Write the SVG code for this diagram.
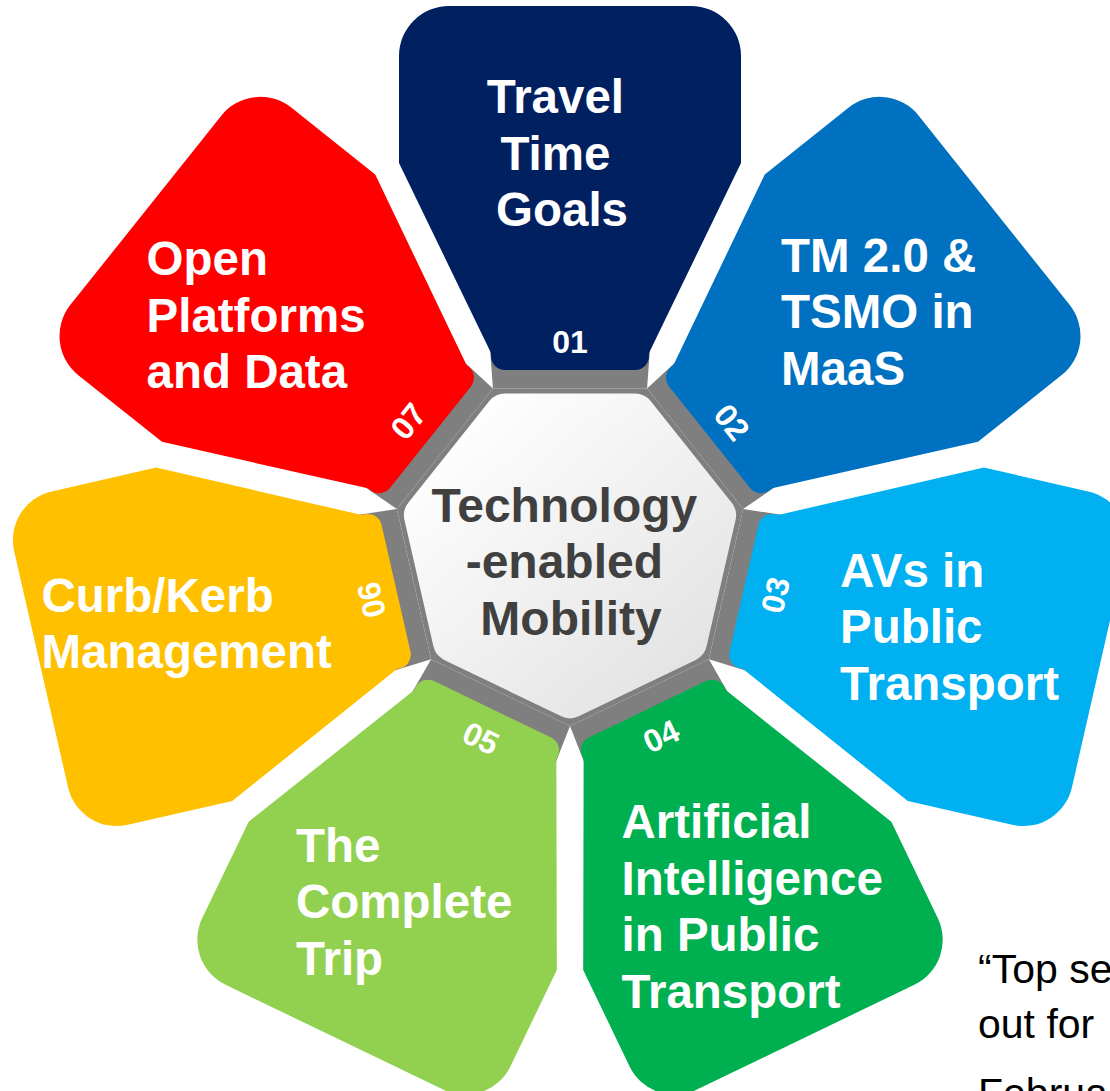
<svg xmlns="http://www.w3.org/2000/svg" width="1110" height="1091" viewBox="0 0 1110 1091">
  <style>
    .lbl { font-family: "Liberation Sans", Arial, sans-serif; font-weight: bold; font-size: 47.5px; fill: #ffffff; }
    .num { font-family: "Liberation Sans", Arial, sans-serif; font-weight: bold; font-size: 32px; fill: #ffffff; text-anchor: middle; }
    .hub-text { font-family: "Liberation Sans", Arial, sans-serif; font-weight: bold; font-size: 48px; fill: #404040; text-anchor: middle; }
    .note { font-family: "Liberation Sans", Arial, sans-serif; font-size: 41px; fill: #000000; }
  </style>
  <defs>
    <linearGradient id="hubFill" gradientUnits="userSpaceOnUse" x1="450" y1="420" x2="700" y2="700">
      <stop offset="0" stop-color="#ffffff"/>
      <stop offset="1" stop-color="#e1e1e1"/>
    </linearGradient>
    <!-- petal outline, pointing up, origin at the hub centre -->
    <path id="petal" d="M -121 -542.5 L 121 -542.5 A 50 50 0 0 1 171 -492.5 L 171 -385.5 L 79 -195.5 L 79 -192.5 A 14 14 0 0 1 65 -178.5 L -65 -178.5 A 14 14 0 0 1 -79 -192.5 L -79 -195.5 L -171 -385.5 L -171 -492.5 A 50 50 0 0 1 -121 -542.5 Z"/>
    <!-- grey neck joining a petal to the hub -->
    <path id="neck" d="M -77.06 -160 L 77.06 -160 L 80 -200 L -80 -200 Z"/>
  </defs>

  <g id="connectors" fill="#7f7f7f">
    <polygon points="647.1,388.5 743.1,509 708.8,659.2 570,726.1 431.2,659.2 396.9,509 492.9,388.5"/>
    <use href="#neck" transform="translate(570 548.5)"/>
    <use href="#neck" transform="translate(570 548.5) rotate(51.4286)"/>
    <use href="#neck" transform="translate(570 548.5) rotate(102.857)"/>
    <use href="#neck" transform="translate(570 548.5) rotate(154.286)"/>
    <use href="#neck" transform="translate(570 548.5) rotate(205.714)"/>
    <use href="#neck" transform="translate(570 548.5) rotate(257.143)"/>
    <use href="#neck" transform="translate(570 548.5) rotate(308.571)"/>
  </g>

  <g id="petal-01">
    <use href="#petal" fill="#002060" transform="translate(570 548.5)"/>
    <text class="num" transform="translate(570 341.5)" x="0" y="11.5">01</text>
    <text class="lbl" text-anchor="middle">
      <tspan x="562" y="113">Travel</tspan>
      <tspan x="562" y="169.7">Time</tspan>
      <tspan x="562" y="226.4">Goals</tspan>
    </text>
  </g>

  <g id="petal-02">
    <use href="#petal" fill="#0070c0" transform="translate(570 548.5) rotate(51.4286)"/>
    <text class="num" transform="translate(732 422) rotate(51.4286)" x="0" y="11.5">02</text>
    <text class="lbl">
      <tspan x="781" y="271.7">TM 2.0 &amp;</tspan>
      <tspan x="781" y="328.4">TSMO in</tspan>
      <tspan x="781" y="385">MaaS</tspan>
    </text>
  </g>

  <g id="petal-03">
    <use href="#petal" fill="#00b0f0" transform="translate(570 548.5) rotate(102.857)"/>
    <text class="num" transform="translate(775 595) rotate(-77.143)" x="0" y="11.5">03</text>
    <text class="lbl">
      <tspan x="840" y="586.7">AVs in</tspan>
      <tspan x="840" y="643.4">Public</tspan>
      <tspan x="840" y="700">Transport</tspan>
    </text>
  </g>

  <g id="petal-04">
    <use href="#petal" fill="#00b050" transform="translate(570 548.5) rotate(154.286)"/>
    <text class="num" transform="translate(661 736) rotate(-25.714)" x="0" y="11.5">04</text>
    <text class="lbl">
      <tspan x="621.5" y="838">Artificial</tspan>
      <tspan x="621.5" y="894.7">Intelligence</tspan>
      <tspan x="621.5" y="951.4">in Public</tspan>
      <tspan x="621.5" y="1008">Transport</tspan>
    </text>
  </g>

  <g id="petal-05">
    <use href="#petal" fill="#92d050" transform="translate(570 548.5) rotate(205.714)"/>
    <text class="num" transform="translate(481 738) rotate(25.714)" x="0" y="11.5">05</text>
    <text class="lbl">
      <tspan x="296" y="861.7">The</tspan>
      <tspan x="296" y="918.4">Complete</tspan>
      <tspan x="296" y="975">Trip</tspan>
    </text>
  </g>

  <g id="petal-06">
    <use href="#petal" fill="#ffc000" transform="translate(570 548.5) rotate(257.143)"/>
    <text class="num" transform="translate(371 600) rotate(-102.857)" x="0" y="11.5">06</text>
    <text class="lbl">
      <tspan x="41.5" y="611.7">Curb/Kerb</tspan>
      <tspan x="41.5" y="668.4">Management</tspan>
    </text>
  </g>

  <g id="petal-07">
    <use href="#petal" fill="#ff0000" transform="translate(570 548.5) rotate(308.571)"/>
    <text class="num" transform="translate(408 421) rotate(-51.4286)" x="0" y="11.5">07</text>
    <text class="lbl">
      <tspan x="146.5" y="275">Open</tspan>
      <tspan x="146.5" y="331.7">Platforms</tspan>
      <tspan x="146.5" y="388.3">and Data</tspan>
    </text>
  </g>

  <g id="hub">
    <polygon points="635,413.5 716.1,515.2 687.1,641.9 570,698.3 452.9,641.9 423.9,515.2 505,413.5" fill="url(#hubFill)" stroke="url(#hubFill)" stroke-width="40" stroke-linejoin="round"/>
    <text class="hub-text">
      <tspan x="571" y="521.7">Technology</tspan>
      <tspan x="571" y="578.4">-enabled</tspan>
      <tspan x="571" y="635">Mobility</tspan>
    </text>
  </g>

  <g id="note">
    <text class="note">
      <tspan x="978" y="983">“Top se</tspan>
      <tspan x="978" y="1038">out for</tspan>
      <tspan x="978" y="1107">Februa</tspan>
    </text>
  </g>
</svg>
